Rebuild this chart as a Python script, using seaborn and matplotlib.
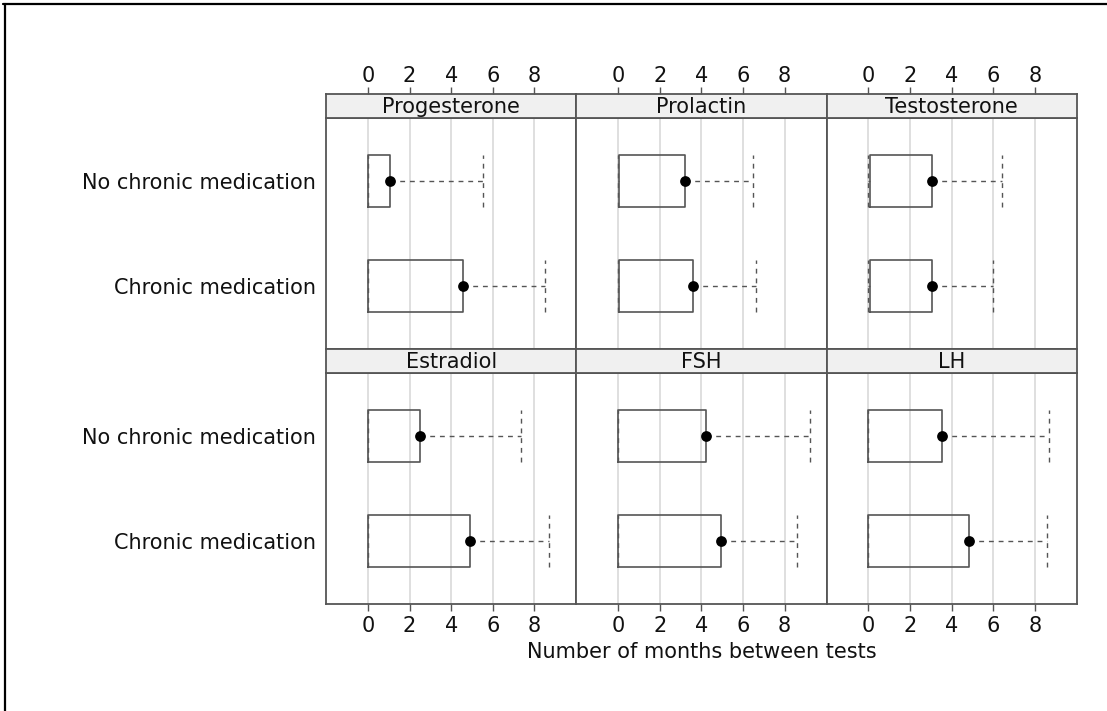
import numpy as np
import pandas as pd
import matplotlib
matplotlib.use("Agg")
import matplotlib.pyplot as plt
import seaborn as sns
from matplotlib.lines import Line2D

# ---- data (months between tests) ----
hormones = ["Progesterone", "Prolactin", "Testosterone", "Estradiol", "FSH", "LH"]
groups = ["Chronic medication", "No chronic medication"]

no_q1 = [0.0, 0.05, 0.05, 0.0, 0.0, 0.0]
no_med = [1.05, 3.21, 3.07, 2.49, 4.24, 3.53]
no_q3 = [1.05, 3.21, 3.07, 2.49, 4.24, 3.53]
no_max = [5.51, 6.47, 6.40, 7.38, 9.20, 8.68]

ch_q1 = [0.0, 0.05, 0.08, 0.0, 0.0, 0.0]
ch_med = [4.55, 3.60, 3.07, 4.90, 4.92, 4.85]
ch_q3 = [4.55, 3.60, 3.07, 4.90, 4.92, 4.85]
ch_max = [8.50, 6.63, 5.99, 8.72, 8.60, 8.61]

xticks = [0, 2, 4, 6, 8]
xlabel = "Number of months between tests"

rows = []
for i, h in enumerate(hormones):
    rows.append(dict(hormone=h, group=groups[0], q1=ch_q1[i], med=ch_med[i], q3=ch_q3[i], mx=ch_max[i]))
    rows.append(dict(hormone=h, group=groups[1], q1=no_q1[i], med=no_med[i], q3=no_q3[i], mx=no_max[i]))
df = pd.DataFrame(rows)
df["pos"] = df["group"].map({groups[0]: 1, groups[1]: 2})

sns.set_theme(style="white")
plt.rcParams["font.family"] = ["DejaVu Sans"]
FS = 15
TXT = "#111111"

W, H = 1107, 711
fig = plt.figure(figsize=(W / 100, H / 100), dpi=100)
fig.patch.set_facecolor("white")

# frame lines (top and left only)
fig.add_artist(Line2D([3 / W, 1], [1 - 4.3 / H, 1 - 4.3 / H], color="black", lw=1.6, transform=fig.transFigure))
fig.add_artist(Line2D([4.5 / W, 4.5 / W], [1 - 4.3 / H, 0], color="black", lw=1.6, transform=fig.transFigure))

col_x = [326, 576.3, 826.5]
col_w = 250.3
row_top = [118.3, 373.3]
panel_h = 230.7
strip_h = 24.0
XLIM = (-2.02, 10.02)
YLIM = (0.4, 2.6)
edge = "#555555"

for k, h in enumerate(hormones):
    r, c = divmod(k, 3)
    x0 = col_x[c] / W
    w = col_w / W
    ybot = 1 - (row_top[r] + panel_h) / H
    ax = fig.add_axes([x0, ybot, w, panel_h / H])
    sax = fig.add_axes([x0, 1 - row_top[r] / H, w, strip_h / H])

    sub = df[df["hormone"] == h]
    stats = []
    for _, s in sub.iterrows():
        stats.append(dict(med=s["med"], q1=s["q1"], q3=s["q3"], whislo=0.0, whishi=s["mx"]))
    ax.bxp(stats, positions=list(sub["pos"]), widths=0.5, orientation="horizontal",
           showfliers=False, capwidths=0.5,
           boxprops=dict(color=edge, lw=1.2),
           whiskerprops=dict(color=edge, lw=1.0, linestyle=(0, (3.5, 3.5))),
           capprops=dict(color=edge, lw=1.0, linestyle=(0, (3.5, 3.5))),
           medianprops=dict(visible=False))
    sns.scatterplot(data=sub, x="med", y="pos", ax=ax, color="black", s=60,
                    edgecolor="black", linewidth=0, zorder=5, legend=False)

    ax.set_xlim(XLIM)
    ax.set_ylim(YLIM)
    for xv in xticks:
        ax.axvline(xv, color="#d9d9d9", lw=1.2, zorder=0)
    ax.set_yticks([1, 2])
    if c == 0:
        ax.set_yticklabels(groups, fontsize=FS, color=TXT)
    else:
        ax.set_yticklabels([])
    ax.tick_params(axis="y", length=0, pad=7)
    ax.set_xlabel("")
    ax.set_ylabel("")
    ax.set_xticks(xticks)
    if r == 1:
        ax.set_xticklabels([str(t) for t in xticks], fontsize=FS, color=TXT)
        ax.tick_params(axis="x", bottom=True, length=5, width=1, color=edge, pad=4, direction="out")
    else:
        ax.set_xticklabels([])
        ax.tick_params(axis="x", length=0)
    for sp in ax.spines.values():
        sp.set_color(edge)
        sp.set_linewidth(1.3)

    # strip
    sax.set_facecolor("#f0f0f0")
    sax.set_xlim(XLIM)
    sax.set_ylim(0, 1)
    sax.set_yticks([])
    sax.text(0.5, 0.47, h, transform=sax.transAxes, ha="center", va="center", fontsize=FS, color=TXT)
    if r == 0:
        sax.xaxis.tick_top()
        sax.set_xticks(xticks)
        sax.set_xticklabels([str(t) for t in xticks], fontsize=FS, color=TXT)
        sax.tick_params(axis="x", top=True, bottom=False, length=5, width=1, color=edge, pad=1, direction="out")
    else:
        sax.set_xticks([])
    for sp in sax.spines.values():
        sp.set_color(edge)
        sp.set_linewidth(1.3)

fig.text((326 + 1076.8) / 2 / W, 1 - 652 / H, xlabel, ha="center", va="center", fontsize=FS, color=TXT)

fig.savefig("out.png", dpi=100, facecolor="white")
